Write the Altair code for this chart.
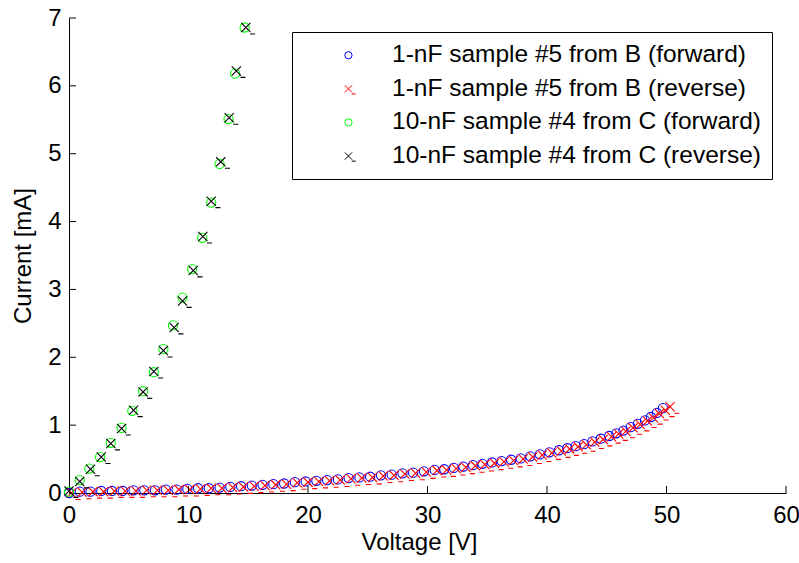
import altair as alt
import pandas as pd

# ---- data ----
V_1nF_fwd = [0.0, 0.9, 1.8, 2.7, 3.6, 4.5, 5.4, 6.3, 7.2, 8.1,
             9.0, 9.9, 10.8, 11.7, 12.6, 13.5, 14.4, 15.3, 16.2, 17.1,
             18.0, 18.9, 19.8, 20.7, 21.6, 22.5, 23.4, 24.3, 25.2, 26.1,
             27.0, 27.9, 28.8, 29.7, 30.6, 31.4, 32.2, 33.0, 33.8, 34.6,
             35.4, 36.2, 37.0, 37.8, 38.6, 39.4, 40.2, 41.0, 41.7, 42.4,
             43.1, 43.8, 44.5, 45.2, 45.8, 46.4, 47.0, 47.6, 48.2, 48.7,
             49.2, 49.7]
I_1nF_fwd = [0.00, 0.02, 0.02, 0.03, 0.03, 0.03, 0.04, 0.04, 0.04, 0.05,
             0.05, 0.06, 0.07, 0.07, 0.08, 0.09, 0.10, 0.11, 0.12, 0.13,
             0.14, 0.16, 0.17, 0.18, 0.19, 0.20, 0.22, 0.23, 0.24, 0.26,
             0.27, 0.29, 0.30, 0.32, 0.34, 0.35, 0.37, 0.39, 0.41, 0.43,
             0.45, 0.47, 0.49, 0.51, 0.54, 0.57, 0.60, 0.63, 0.66, 0.69,
             0.72, 0.76, 0.80, 0.84, 0.88, 0.92, 0.97, 1.02, 1.07, 1.12,
             1.18, 1.25]

V_1nF_rev = [0.2, 1.1, 2.0, 2.9, 3.8, 4.7, 5.6, 6.5, 7.4, 8.3,
             9.2, 10.1, 11.0, 11.9, 12.8, 13.7, 14.6, 15.5, 16.4, 17.3,
             18.2, 19.1, 20.0, 20.9, 21.8, 22.7, 23.6, 24.5, 25.4, 26.3,
             27.2, 28.1, 29.0, 29.9, 30.8, 31.6, 32.4, 33.2, 34.0, 34.8,
             35.6, 36.4, 37.2, 38.0, 38.8, 39.6, 40.4, 41.2, 41.9, 42.6,
             43.3, 44.0, 44.7, 45.4, 46.0, 46.6, 47.2, 47.8, 48.4, 48.9,
             49.4, 49.9, 50.3]
I_1nF_rev = [0.00, 0.01, 0.02, 0.02, 0.03, 0.03, 0.03, 0.04, 0.04, 0.04,
             0.05, 0.05, 0.06, 0.07, 0.07, 0.08, 0.09, 0.10, 0.11, 0.12,
             0.13, 0.15, 0.16, 0.17, 0.18, 0.19, 0.21, 0.22, 0.23, 0.25,
             0.26, 0.28, 0.29, 0.31, 0.33, 0.34, 0.36, 0.38, 0.40, 0.42,
             0.44, 0.46, 0.48, 0.50, 0.53, 0.56, 0.59, 0.62, 0.65, 0.68,
             0.71, 0.75, 0.79, 0.83, 0.87, 0.91, 0.96, 1.01, 1.06, 1.11,
             1.17, 1.22, 1.27]

V_10nF_fwd = [0.0, 0.9, 1.7, 2.6, 3.5, 4.4, 5.3, 6.2, 7.1, 7.9,
              8.7, 9.5, 10.3, 11.15, 11.9, 12.6, 13.35, 13.9, 14.7]
I_10nF_fwd = [0.02, 0.19, 0.36, 0.53, 0.74, 0.96, 1.21, 1.50, 1.78, 2.12,
              2.47, 2.88, 3.30, 3.76, 4.28, 4.85, 5.51, 6.18, 6.86]

V_10nF_rev = [0.0, 0.9, 1.8, 2.7, 3.5, 4.4, 5.4, 6.2, 7.1, 7.9,
              8.8, 9.5, 10.4, 11.2, 11.9, 12.7, 13.4, 14.0, 14.8]
I_10nF_rev = [0.03, 0.17, 0.35, 0.53, 0.73, 0.95, 1.22, 1.49, 1.79, 2.10,
              2.44, 2.83, 3.28, 3.78, 4.30, 4.88, 5.53, 6.22, 6.86]

SERIES = ["1-nF sample #5 from B (forward)",
          "1-nF sample #5 from B (reverse)",
          "10-nF sample #4 from C (forward)",
          "10-nF sample #4 from C (reverse)"]
COLORS = ["#0000ff", "#ff0000", "#00ff00", "#000000"]

X_TICKS = [0, 10, 20, 30, 40, 50, 60]
Y_TICKS = [0, 1, 2, 3, 4, 5, 6, 7]
X_INNER_TICKS = [10, 20, 30, 40, 50, 60]
Y_INNER_TICKS = [1, 2, 3, 4, 5, 6, 7]

XPATH = "M-1,-1L1,1M-1,1L1,-1M0.9,1.4L2,1.4"
SHAPES = ["circle", XPATH, "circle", XPATH]
FONT = "Liberation Sans"

rows = []
for name, vs, cs in [(SERIES[0], V_1nF_fwd, I_1nF_fwd),
                     (SERIES[1], V_1nF_rev, I_1nF_rev),
                     (SERIES[2], V_10nF_fwd, I_10nF_fwd),
                     (SERIES[3], V_10nF_rev, I_10nF_rev)]:
    for v, c in zip(vs, cs):
        rows.append({"V": v, "I": c, "series": name})
df = pd.DataFrame(rows)
df["order"] = range(len(df))

ytick_df = pd.DataFrame({"V": [0] * len(Y_INNER_TICKS), "I": Y_INNER_TICKS})
xtick_df = pd.DataFrame({"V": X_INNER_TICKS, "I": [0] * len(X_INNER_TICKS)})

x_scale = alt.Scale(domain=[0, 60], nice=False, zero=False)
y_scale = alt.Scale(domain=[0, 7], nice=False, zero=False)

x_axis = alt.Axis(values=X_TICKS, title="Voltage [V]", grid=False, ticks=False,
                  tickSize=0, labelPadding=10, labelFont=FONT, labelFontSize=24,
                  labelColor="black", labelFlush=False, labelOverlap=False,
                  titleFont=FONT, titleFontSize=24, titleFontWeight="normal",
                  titleColor="black", titleY=37.5, titleBaseline="top",
                  titleX=350, titleAlign="center",
                  domainColor="black", domainWidth=1)
y_axis = alt.Axis(values=Y_TICKS, title="Current [mA]", grid=False, ticks=False,
                  tickSize=0, labelPadding=8, labelFont=FONT, labelFontSize=24,
                  labelColor="black", labelFlush=False, labelOverlap=False,
                  titleFont=FONT, titleFontSize=24, titleFontWeight="normal",
                  titleColor="black", titleX=-46, titleBaseline="middle",
                  domainColor="black", domainWidth=1)

NB = "\u00a0"
legend = alt.Legend(title=None, orient="none", legendX=223, legendY=14,
                    strokeColor="black", fillColor="white", padding=11,
                    cornerRadius=0, symbolOffset=33.2, labelOffset=31.3,
                    labelFont=FONT, labelFontSize=24.5, labelColor="black",
                    labelLimit=600, symbolSize=53, symbolStrokeWidth=1,
                    rowPadding=8.6,
                    labelExpr="datum.label + '" + NB * 3 + "'")

points = alt.Chart(df).mark_point(filled=False, size=85, strokeWidth=1.1, opacity=1).encode(
    x=alt.X("V:Q", scale=x_scale, axis=x_axis),
    y=alt.Y("I:Q", scale=y_scale, axis=y_axis),
    stroke=alt.Stroke("series:N", scale=alt.Scale(domain=SERIES, range=COLORS), legend=legend),
    shape=alt.Shape("series:N", scale=alt.Scale(domain=SERIES, range=SHAPES), legend=legend),
    order=alt.Order("order:Q"),
)

yticks = alt.Chart(ytick_df).mark_point(shape="M0,0L1,0", size=196, filled=False,
                                        color="black", strokeWidth=1, opacity=1).encode(
    x=alt.X("V:Q", scale=x_scale, axis=x_axis),
    y=alt.Y("I:Q", scale=y_scale, axis=y_axis),
)
xticks = alt.Chart(xtick_df).mark_point(shape="M0,0L0,-1", size=196, filled=False,
                                        color="black", strokeWidth=1, opacity=1).encode(
    x=alt.X("V:Q", scale=x_scale, axis=x_axis),
    y=alt.Y("I:Q", scale=y_scale, axis=y_axis),
)

chart = alt.layer(points, yticks, xticks).properties(
    width=717, height=475,
    autosize=alt.AutoSizeParams(type="none"),
    padding={"left": 69, "top": 18, "right": 13, "bottom": 70},
    background="white",
).configure_view(strokeWidth=0)

chart.save("out.html", embed_options={"renderer": "svg", "actions": False})
